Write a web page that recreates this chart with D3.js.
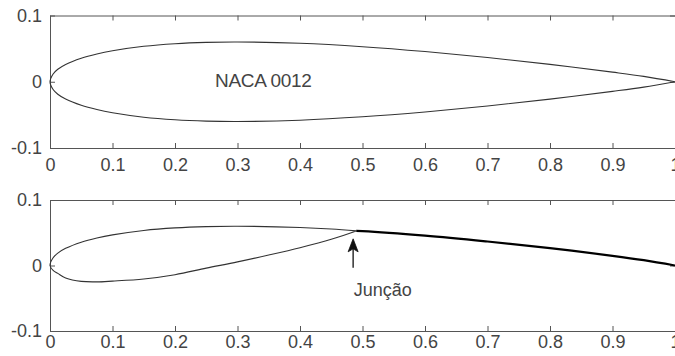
<!DOCTYPE html>
<html>
<head>
<meta charset="utf-8">
<script src="https://cdn.jsdelivr.net/npm/d3@7"></script>
<style>
  html, body { margin: 0; padding: 0; background: #fff; }
  svg { display: block; }
  text { font-family: "Liberation Sans", Arial, Helvetica, sans-serif; fill: #444; }
</style>
</head>
<body>
<svg id="chart" width="675" height="356"></svg>
<script>
// Axis ticks
const xTicks = [0, 0.1, 0.2, 0.3, 0.4, 0.5, 0.6, 0.7, 0.8, 0.9, 1];
const xTickLabels = ["0", "0.1", "0.2", "0.3", "0.4", "0.5", "0.6", "0.7", "0.8", "0.9", "1"];
const yTicks = [-0.1, 0, 0.1];
const yTickLabels = ["-0.1", "0", "0.1"];

// NACA 0012 contour (chord fraction x, thickness y)
const nacaX = [0, 0.005, 0.0125, 0.025, 0.05, 0.075, 0.1, 0.15, 0.2, 0.25, 0.3, 0.4, 0.5, 0.6, 0.7, 0.8, 0.9, 0.95, 1.0];
const nacaUpper = [0, 0.0118, 0.0189, 0.0262, 0.0356, 0.0420, 0.0468, 0.0535, 0.0574, 0.0594, 0.0600, 0.0580, 0.0529, 0.0456, 0.0366, 0.0262, 0.0145, 0.0081, 0];
const nacaLower = [0, -0.0118, -0.0189, -0.0262, -0.0356, -0.0420, -0.0468, -0.0535, -0.0574, -0.0594, -0.0600, -0.0580, -0.0529, -0.0456, -0.0366, -0.0262, -0.0145, -0.0081, 0];

// Modified profile: front part up to the junction
const frontUpperX = [0, 0.005, 0.0125, 0.025, 0.05, 0.075, 0.1, 0.15, 0.2, 0.25, 0.3, 0.4, 0.45, 0.49];
const frontUpperY = [0, 0.0118, 0.0189, 0.0262, 0.0356, 0.0420, 0.0468, 0.0535, 0.0574, 0.0594, 0.0600, 0.0580, 0.0557, 0.0528];
const frontLowerX = [0, 0.005, 0.0125, 0.025, 0.05, 0.075, 0.1, 0.15, 0.2, 0.25, 0.3, 0.35, 0.4, 0.45, 0.49];
const frontLowerY = [0, -0.0075, -0.0120, -0.0190, -0.0243, -0.0250, -0.0238, -0.0205, -0.0140, -0.0040, 0.0055, 0.0160, 0.0272, 0.0400, 0.0528];

// Single-line tail after the junction
const tailX = [0.49, 0.5, 0.6, 0.7, 0.8, 0.9, 0.95, 1.0];
const tailY = [0.0528, 0.0525, 0.0456, 0.0366, 0.0266, 0.0148, 0.0081, 0];

// Annotations
const profileLabel = { text: "NACA 0012", x: 0.264, y: -0.0084 };
const junctionLabel = { text: "Junção", x: 0.486, y: -0.046 };
const junctionArrow = { x: 0.485, yTip: 0.0407, yTail: -0.0034 };

const svg = d3.select("#chart");
const x = d3.scaleLinear().domain([0, 1]).range([50, 675]);

const panels = [
  { top: 15.5, bottom: 148, xPad: 10 },
  { top: 200, bottom: 331, xPad: 4 }
];

const boxColor = "#555";
const lineColor = "#333";

function drawPanel(p) {
  const y = d3.scaleLinear().domain([-0.1, 0.1]).range([p.bottom, p.top]);
  const g = svg.append("g");

  // bottom axis with inward ticks
  const xb = g.append("g").attr("transform", `translate(0,${p.bottom})`)
    .call(d3.axisBottom(x).tickValues(xTicks).tickFormat((d, i) => xTickLabels[i])
      .tickSizeInner(-5).tickSizeOuter(0).tickPadding(p.xPad));
  // top axis ticks (no labels)
  const xt = g.append("g").attr("transform", `translate(0,${p.top})`)
    .call(d3.axisTop(x).tickValues(xTicks).tickFormat("")
      .tickSizeInner(-5).tickSizeOuter(0));
  // left axis
  const yl = g.append("g").attr("transform", `translate(${x(0)},0)`)
    .call(d3.axisLeft(y).tickValues(yTicks).tickFormat((d, i) => yTickLabels[i])
      .tickSizeInner(-5).tickSizeOuter(0).tickPadding(8));
  // right axis ticks
  const yr = g.append("g").attr("transform", `translate(${x(1)},0)`)
    .call(d3.axisRight(y).tickValues(yTicks).tickFormat("")
      .tickSizeInner(-5).tickSizeOuter(0));

  [xb, xt, yl, yr].forEach(a => {
    a.select(".domain").attr("stroke", boxColor);
    a.selectAll(".tick line").attr("stroke", boxColor);
    a.selectAll("text").attr("font-size", 18).attr("fill", "#444")
      .attr("font-family", "'Liberation Sans', Arial, sans-serif");
  });
  return { g, y };
}

const line = (y) => d3.line().x(d => x(d[0])).y(d => y(d[1])).curve(d3.curveCatmullRom.alpha(0.5));

// Top panel: full NACA 0012 section
{
  const { g, y } = drawPanel(panels[0]);
  const contour = nacaX.map((v, i) => [v, nacaUpper[i]]).reverse()
    .concat(nacaX.slice(1).map((v, i) => [v, nacaLower[i + 1]]));
  g.append("path").attr("d", line(y)(contour))
    .attr("fill", "none").attr("stroke", lineColor).attr("stroke-width", 1.1);
  g.append("text").attr("x", x(profileLabel.x)).attr("y", y(profileLabel.y))
    .attr("font-size", 19).attr("letter-spacing", "-0.3").text(profileLabel.text);
}

// Bottom panel: modified section with junction
{
  const { g, y } = drawPanel(panels[1]);
  const front = frontUpperX.map((v, i) => [v, frontUpperY[i]]).reverse()
    .concat(frontLowerX.slice(1).map((v, i) => [v, frontLowerY[i + 1]]));
  g.append("path").attr("d", line(y)(front))
    .attr("fill", "none").attr("stroke", lineColor).attr("stroke-width", 1.1);
  const tail = tailX.map((v, i) => [v, tailY[i]]);
  g.append("path").attr("d", line(y)(tail))
    .attr("fill", "none").attr("stroke", "#000").attr("stroke-width", 2.2);

  // arrow pointing at the junction
  const ax = x(junctionArrow.x), tipY = y(junctionArrow.yTip), tailYp = y(junctionArrow.yTail);
  g.append("line").attr("x1", ax).attr("x2", ax).attr("y1", tipY + 8).attr("y2", tailYp)
    .attr("stroke", "#111").attr("stroke-width", 1.3);
  g.append("path")
    .attr("d", `M${ax},${tipY} L${ax + 5},${tipY + 13} L${ax},${tipY + 10} L${ax - 5},${tipY + 13} Z`)
    .attr("fill", "#111").attr("stroke", "#111").attr("stroke-width", 0.8);

  g.append("text").attr("x", x(junctionLabel.x)).attr("y", y(junctionLabel.y))
    .attr("font-size", 18).text(junctionLabel.text);
}
</script>
</body>
</html>
